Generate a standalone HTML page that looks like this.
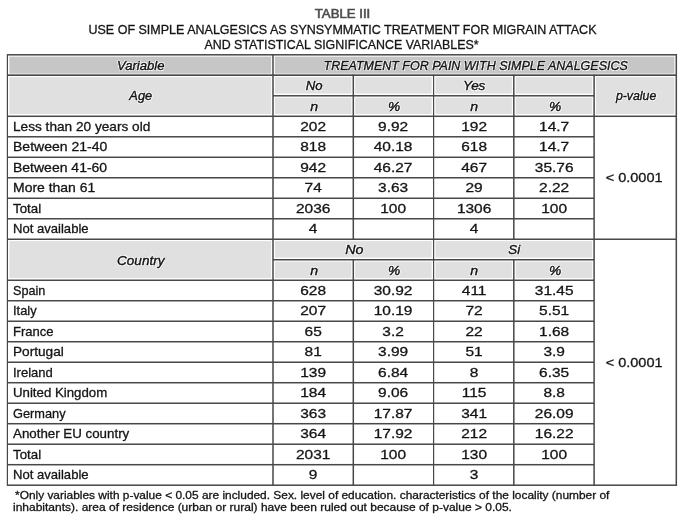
<!DOCTYPE html>
<html><head><meta charset="utf-8"><title>Table III</title>
<style>
html,body{margin:0;padding:0;background:#fff}
body{width:683px;height:520px;position:relative;overflow:hidden;font-family:"Liberation Sans",sans-serif;color:#151515}
#txt{position:absolute;left:0;top:0;width:683px;height:520px;will-change:transform;opacity:0.999}
.t{position:absolute;height:20px;line-height:20px;font-size:13px;white-space:nowrap;-webkit-text-stroke:0.3px #151515}
.i{font-style:italic;-webkit-text-stroke:0.42px #151515;text-shadow:.8px 0 .5px #fff,-.8px 0 .5px #fff,0 .8px .5px #fff,0 -.8px .5px #fff,.6px .6px .5px #fff,-.6px -.6px .5px #fff,.6px -.6px .5px #fff,-.6px .6px .5px #fff}
.b{color:#4c4c4c;-webkit-text-stroke:0.6px #4c4c4c}
.ttl{font-size:13px;height:16px;line-height:16px}
.fn{font-size:11px;height:14px;line-height:14px}
</style></head><body>
<svg width="683" height="520" viewBox="0 0 683 520" style="position:absolute;left:0;top:0">
<rect x="9.35" y="56.65" width="261.75" height="17.00" fill="#c6c6c6"/>
<rect x="274.90" y="56.65" width="399.50" height="17.00" fill="#c6c6c6"/>
<rect x="9.35" y="77.14" width="261.75" height="36.94" fill="#e0e0e0"/>
<rect x="274.90" y="77.14" width="76.50" height="16.44" fill="#e0e0e0"/>
<rect x="274.90" y="97.64" width="76.50" height="16.45" fill="#e0e0e0"/>
<rect x="274.90" y="261.60" width="76.50" height="16.45" fill="#e0e0e0"/>
<rect x="355.20" y="77.14" width="76.45" height="16.44" fill="#e0e0e0"/>
<rect x="355.20" y="97.64" width="76.45" height="16.45" fill="#e0e0e0"/>
<rect x="355.20" y="261.60" width="76.45" height="16.45" fill="#e0e0e0"/>
<rect x="435.45" y="77.14" width="76.45" height="16.44" fill="#e0e0e0"/>
<rect x="435.45" y="97.64" width="76.45" height="16.45" fill="#e0e0e0"/>
<rect x="435.45" y="261.60" width="76.45" height="16.45" fill="#e0e0e0"/>
<rect x="515.70" y="77.14" width="76.50" height="16.44" fill="#e0e0e0"/>
<rect x="515.70" y="97.64" width="76.50" height="16.45" fill="#e0e0e0"/>
<rect x="515.70" y="261.60" width="76.50" height="16.45" fill="#e0e0e0"/>
<rect x="596.00" y="77.14" width="78.40" height="36.94" fill="#e0e0e0"/>
<rect x="9.35" y="241.10" width="261.75" height="36.94" fill="#e0e0e0"/>
<rect x="274.90" y="241.10" width="156.75" height="16.45" fill="#e0e0e0"/>
<rect x="435.45" y="241.10" width="156.75" height="16.45" fill="#e0e0e0"/>
<rect x="7.45" y="54.05" width="668.85" height="1.50" fill="#484848"/>
<rect x="7.45" y="484.45" width="668.85" height="1.50" fill="#484848"/>
<rect x="7.45" y="74.34" width="668.85" height="1.66" fill="#484848"/>
<rect x="273.00" y="95.04" width="321.10" height="1.50" fill="#484848"/>
<rect x="7.45" y="115.53" width="668.85" height="1.50" fill="#484848"/>
<rect x="7.45" y="136.03" width="586.65" height="1.50" fill="#484848"/>
<rect x="7.45" y="156.53" width="586.65" height="1.50" fill="#484848"/>
<rect x="7.45" y="177.02" width="586.65" height="1.50" fill="#484848"/>
<rect x="7.45" y="197.51" width="586.65" height="1.50" fill="#484848"/>
<rect x="7.45" y="218.01" width="586.65" height="1.50" fill="#484848"/>
<rect x="7.45" y="238.50" width="668.85" height="1.50" fill="#484848"/>
<rect x="273.00" y="259.00" width="321.10" height="1.50" fill="#484848"/>
<rect x="7.45" y="279.50" width="586.65" height="1.50" fill="#484848"/>
<rect x="7.45" y="299.99" width="586.65" height="1.50" fill="#484848"/>
<rect x="7.45" y="320.49" width="586.65" height="1.50" fill="#484848"/>
<rect x="7.45" y="340.98" width="586.65" height="1.50" fill="#484848"/>
<rect x="7.45" y="361.48" width="586.65" height="1.50" fill="#484848"/>
<rect x="7.45" y="381.97" width="586.65" height="1.50" fill="#484848"/>
<rect x="7.45" y="402.47" width="586.65" height="1.50" fill="#484848"/>
<rect x="7.45" y="422.96" width="586.65" height="1.50" fill="#484848"/>
<rect x="7.45" y="443.46" width="586.65" height="1.50" fill="#484848"/>
<rect x="7.45" y="463.95" width="586.65" height="1.50" fill="#484848"/>
<rect x="6.78" y="54.05" width="1.22" height="431.90" fill="#484848"/>
<rect x="675.55" y="54.05" width="1.50" height="431.90" fill="#484848"/>
<rect x="272.25" y="54.05" width="1.50" height="431.90" fill="#484848"/>
<rect x="593.35" y="74.55" width="1.50" height="411.40" fill="#484848"/>
<rect x="433.00" y="74.55" width="1.20" height="411.40" fill="#484848"/>
<rect x="352.55" y="74.55" width="1.50" height="165.46" fill="#484848"/>
<rect x="513.05" y="74.55" width="1.50" height="165.46" fill="#484848"/>
<rect x="352.55" y="259.00" width="1.50" height="226.95" fill="#484848"/>
<rect x="513.05" y="259.00" width="1.50" height="226.95" fill="#484848"/>
</svg>
<div id="txt">
<div class="t i" style="left:7.79px;top:55.50px;width:265.55px;text-align:center;transform:scaleX(1.0084);transform-origin:center center;">Variable</div>
<div class="t i" style="left:273.67px;top:55.50px;width:403.30px;text-align:center;transform:scaleX(0.9603);transform-origin:center center;">TREATMENT FOR PAIN WITH SIMPLE ANALGESICS</div>
<div class="t i" style="left:8.24px;top:85.50px;width:265.55px;text-align:center;transform:scaleX(0.9875);transform-origin:center center;">Age</div>
<div class="t i" style="left:273.62px;top:75.50px;width:80.30px;text-align:center;transform:scaleX(1.0145);transform-origin:center center;">No</div>
<div class="t i" style="left:434.40px;top:75.50px;width:80.25px;text-align:center;transform:scaleX(1.0364);transform-origin:center center;">Yes</div>
<div class="t i" style="left:595.26px;top:85.50px;width:82.20px;text-align:center;transform:scaleX(0.9456);transform-origin:center center;">p-value</div>
<div class="t i" style="left:273.81px;top:96.50px;width:80.30px;text-align:center;transform:scaleX(1.0872);transform-origin:center center;">n</div>
<div class="t i" style="left:354.23px;top:96.50px;width:80.25px;text-align:center;transform:scaleX(1.0566);transform-origin:center center;">%</div>
<div class="t i" style="left:434.37px;top:96.50px;width:80.25px;text-align:center;transform:scaleX(1.0832);transform-origin:center center;">n</div>
<div class="t i" style="left:514.62px;top:96.50px;width:80.30px;text-align:center;transform:scaleX(1.0603);transform-origin:center center;">%</div>
<div class="t i" style="left:273.81px;top:260.50px;width:80.30px;text-align:center;transform:scaleX(1.0872);transform-origin:center center;">n</div>
<div class="t i" style="left:354.23px;top:260.50px;width:80.25px;text-align:center;transform:scaleX(1.0566);transform-origin:center center;">%</div>
<div class="t i" style="left:434.37px;top:260.50px;width:80.25px;text-align:center;transform:scaleX(1.0832);transform-origin:center center;">n</div>
<div class="t i" style="left:514.62px;top:260.50px;width:80.30px;text-align:center;transform:scaleX(1.0603);transform-origin:center center;">%</div>
<div class="t i" style="left:8.15px;top:250.50px;width:265.55px;text-align:center;transform:scaleX(1.0401);transform-origin:center center;">Country</div>
<div class="t i" style="left:273.85px;top:239.50px;width:160.55px;text-align:center;transform:scaleX(1.0995);transform-origin:center center;">No</div>
<div class="t i" style="left:434.30px;top:239.50px;width:160.55px;text-align:center;transform:scaleX(1.0255);transform-origin:center center;">Si</div>
<div class="t " style="left:12.93px;top:116.50px;width:257.55px;text-align:left;transform:scaleX(1.0492);transform-origin:left center;">Less than 20 years old</div>
<div class="t " style="left:273.00px;top:116.50px;width:80.30px;text-align:center;transform:scaleX(1.1900);transform-origin:center center;">202</div>
<div class="t " style="left:353.30px;top:116.50px;width:80.25px;text-align:center;transform:scaleX(1.1900);transform-origin:center center;">9.92</div>
<div class="t " style="left:433.55px;top:116.50px;width:80.25px;text-align:center;transform:scaleX(1.1900);transform-origin:center center;">192</div>
<div class="t " style="left:513.80px;top:116.50px;width:80.30px;text-align:center;transform:scaleX(1.1900);transform-origin:center center;">14.7</div>
<div class="t " style="left:12.86px;top:136.50px;width:257.55px;text-align:left;transform:scaleX(1.0776);transform-origin:left center;">Between 21-40</div>
<div class="t " style="left:273.00px;top:136.50px;width:80.30px;text-align:center;transform:scaleX(1.1900);transform-origin:center center;">818</div>
<div class="t " style="left:353.30px;top:136.50px;width:80.25px;text-align:center;transform:scaleX(1.1900);transform-origin:center center;">40.18</div>
<div class="t " style="left:433.55px;top:136.50px;width:80.25px;text-align:center;transform:scaleX(1.1900);transform-origin:center center;">618</div>
<div class="t " style="left:513.80px;top:136.50px;width:80.30px;text-align:center;transform:scaleX(1.1900);transform-origin:center center;">14.7</div>
<div class="t " style="left:12.86px;top:157.50px;width:257.55px;text-align:left;transform:scaleX(1.0765);transform-origin:left center;">Between 41-60</div>
<div class="t " style="left:273.00px;top:157.50px;width:80.30px;text-align:center;transform:scaleX(1.1900);transform-origin:center center;">942</div>
<div class="t " style="left:353.30px;top:157.50px;width:80.25px;text-align:center;transform:scaleX(1.1900);transform-origin:center center;">46.27</div>
<div class="t " style="left:433.55px;top:157.50px;width:80.25px;text-align:center;transform:scaleX(1.1900);transform-origin:center center;">467</div>
<div class="t " style="left:513.80px;top:157.50px;width:80.30px;text-align:center;transform:scaleX(1.1900);transform-origin:center center;">35.76</div>
<div class="t " style="left:12.86px;top:177.50px;width:257.55px;text-align:left;transform:scaleX(1.0744);transform-origin:left center;">More than 61</div>
<div class="t " style="left:273.00px;top:177.50px;width:80.30px;text-align:center;transform:scaleX(1.1900);transform-origin:center center;">74</div>
<div class="t " style="left:353.30px;top:177.50px;width:80.25px;text-align:center;transform:scaleX(1.1900);transform-origin:center center;">3.63</div>
<div class="t " style="left:433.55px;top:177.50px;width:80.25px;text-align:center;transform:scaleX(1.1900);transform-origin:center center;">29</div>
<div class="t " style="left:513.80px;top:177.50px;width:80.30px;text-align:center;transform:scaleX(1.1900);transform-origin:center center;">2.22</div>
<div class="t " style="left:13.40px;top:198.50px;width:257.55px;text-align:left;transform:scaleX(1.0244);transform-origin:left center;">Total</div>
<div class="t " style="left:273.00px;top:198.50px;width:80.30px;text-align:center;transform:scaleX(1.1900);transform-origin:center center;">2036</div>
<div class="t " style="left:353.30px;top:198.50px;width:80.25px;text-align:center;transform:scaleX(1.1900);transform-origin:center center;">100</div>
<div class="t " style="left:433.55px;top:198.50px;width:80.25px;text-align:center;transform:scaleX(1.1900);transform-origin:center center;">1306</div>
<div class="t " style="left:513.80px;top:198.50px;width:80.30px;text-align:center;transform:scaleX(1.1900);transform-origin:center center;">100</div>
<div class="t " style="left:12.92px;top:218.50px;width:257.55px;text-align:left;transform:scaleX(1.0058);transform-origin:left center;">Not available</div>
<div class="t " style="left:273.00px;top:218.50px;width:80.30px;text-align:center;transform:scaleX(1.1900);transform-origin:center center;">4</div>
<div class="t " style="left:433.55px;top:218.50px;width:80.25px;text-align:center;transform:scaleX(1.1900);transform-origin:center center;">4</div>
<div class="t " style="left:12.99px;top:280.50px;width:257.55px;text-align:left;transform:scaleX(0.9712);transform-origin:left center;">Spain</div>
<div class="t " style="left:273.00px;top:280.50px;width:80.30px;text-align:center;transform:scaleX(1.1900);transform-origin:center center;">628</div>
<div class="t " style="left:353.30px;top:280.50px;width:80.25px;text-align:center;transform:scaleX(1.1900);transform-origin:center center;">30.92</div>
<div class="t " style="left:433.55px;top:280.50px;width:80.25px;text-align:center;transform:scaleX(1.1900);transform-origin:center center;">411</div>
<div class="t " style="left:513.80px;top:280.50px;width:80.30px;text-align:center;transform:scaleX(1.1900);transform-origin:center center;">31.45</div>
<div class="t " style="left:12.79px;top:300.50px;width:257.55px;text-align:left;transform:scaleX(0.9917);transform-origin:left center;">Italy</div>
<div class="t " style="left:273.00px;top:300.50px;width:80.30px;text-align:center;transform:scaleX(1.1900);transform-origin:center center;">207</div>
<div class="t " style="left:353.30px;top:300.50px;width:80.25px;text-align:center;transform:scaleX(1.1900);transform-origin:center center;">10.19</div>
<div class="t " style="left:433.55px;top:300.50px;width:80.25px;text-align:center;transform:scaleX(1.1900);transform-origin:center center;">72</div>
<div class="t " style="left:513.80px;top:300.50px;width:80.30px;text-align:center;transform:scaleX(1.1900);transform-origin:center center;">5.51</div>
<div class="t " style="left:12.92px;top:321.50px;width:257.55px;text-align:left;transform:scaleX(1.0031);transform-origin:left center;">France</div>
<div class="t " style="left:273.00px;top:321.50px;width:80.30px;text-align:center;transform:scaleX(1.1900);transform-origin:center center;">65</div>
<div class="t " style="left:353.30px;top:321.50px;width:80.25px;text-align:center;transform:scaleX(1.1900);transform-origin:center center;">3.2</div>
<div class="t " style="left:433.55px;top:321.50px;width:80.25px;text-align:center;transform:scaleX(1.1900);transform-origin:center center;">22</div>
<div class="t " style="left:513.80px;top:321.50px;width:80.30px;text-align:center;transform:scaleX(1.1900);transform-origin:center center;">1.68</div>
<div class="t " style="left:12.88px;top:341.50px;width:257.55px;text-align:left;transform:scaleX(1.0497);transform-origin:left center;">Portugal</div>
<div class="t " style="left:273.00px;top:341.50px;width:80.30px;text-align:center;transform:scaleX(1.1900);transform-origin:center center;">81</div>
<div class="t " style="left:353.30px;top:341.50px;width:80.25px;text-align:center;transform:scaleX(1.1900);transform-origin:center center;">3.99</div>
<div class="t " style="left:433.55px;top:341.50px;width:80.25px;text-align:center;transform:scaleX(1.1900);transform-origin:center center;">51</div>
<div class="t " style="left:513.80px;top:341.50px;width:80.30px;text-align:center;transform:scaleX(1.1900);transform-origin:center center;">3.9</div>
<div class="t " style="left:12.78px;top:362.50px;width:257.55px;text-align:left;transform:scaleX(1.0016);transform-origin:left center;">Ireland</div>
<div class="t " style="left:273.00px;top:362.50px;width:80.30px;text-align:center;transform:scaleX(1.1900);transform-origin:center center;">139</div>
<div class="t " style="left:353.30px;top:362.50px;width:80.25px;text-align:center;transform:scaleX(1.1900);transform-origin:center center;">6.84</div>
<div class="t " style="left:433.55px;top:362.50px;width:80.25px;text-align:center;transform:scaleX(1.1900);transform-origin:center center;">8</div>
<div class="t " style="left:513.80px;top:362.50px;width:80.30px;text-align:center;transform:scaleX(1.1900);transform-origin:center center;">6.35</div>
<div class="t " style="left:12.95px;top:382.50px;width:257.55px;text-align:left;transform:scaleX(1.0180);transform-origin:left center;">United Kingdom</div>
<div class="t " style="left:273.00px;top:382.50px;width:80.30px;text-align:center;transform:scaleX(1.1900);transform-origin:center center;">184</div>
<div class="t " style="left:353.30px;top:382.50px;width:80.25px;text-align:center;transform:scaleX(1.1900);transform-origin:center center;">9.06</div>
<div class="t " style="left:433.55px;top:382.50px;width:80.25px;text-align:center;transform:scaleX(1.1900);transform-origin:center center;">115</div>
<div class="t " style="left:513.80px;top:382.50px;width:80.30px;text-align:center;transform:scaleX(1.1900);transform-origin:center center;">8.8</div>
<div class="t " style="left:13.06px;top:403.50px;width:257.55px;text-align:left;transform:scaleX(0.9830);transform-origin:left center;">Germany</div>
<div class="t " style="left:273.00px;top:403.50px;width:80.30px;text-align:center;transform:scaleX(1.1900);transform-origin:center center;">363</div>
<div class="t " style="left:353.30px;top:403.50px;width:80.25px;text-align:center;transform:scaleX(1.1900);transform-origin:center center;">17.87</div>
<div class="t " style="left:433.55px;top:403.50px;width:80.25px;text-align:center;transform:scaleX(1.1900);transform-origin:center center;">341</div>
<div class="t " style="left:513.80px;top:403.50px;width:80.30px;text-align:center;transform:scaleX(1.1900);transform-origin:center center;">26.09</div>
<div class="t " style="left:13.36px;top:423.50px;width:257.55px;text-align:left;transform:scaleX(1.0246);transform-origin:left center;">Another EU country</div>
<div class="t " style="left:273.00px;top:423.50px;width:80.30px;text-align:center;transform:scaleX(1.1900);transform-origin:center center;">364</div>
<div class="t " style="left:353.30px;top:423.50px;width:80.25px;text-align:center;transform:scaleX(1.1900);transform-origin:center center;">17.92</div>
<div class="t " style="left:433.55px;top:423.50px;width:80.25px;text-align:center;transform:scaleX(1.1900);transform-origin:center center;">212</div>
<div class="t " style="left:513.80px;top:423.50px;width:80.30px;text-align:center;transform:scaleX(1.1900);transform-origin:center center;">16.22</div>
<div class="t " style="left:13.40px;top:444.50px;width:257.55px;text-align:left;transform:scaleX(1.0244);transform-origin:left center;">Total</div>
<div class="t " style="left:273.00px;top:444.50px;width:80.30px;text-align:center;transform:scaleX(1.1900);transform-origin:center center;">2031</div>
<div class="t " style="left:353.30px;top:444.50px;width:80.25px;text-align:center;transform:scaleX(1.1900);transform-origin:center center;">100</div>
<div class="t " style="left:433.55px;top:444.50px;width:80.25px;text-align:center;transform:scaleX(1.1900);transform-origin:center center;">130</div>
<div class="t " style="left:513.80px;top:444.50px;width:80.30px;text-align:center;transform:scaleX(1.1900);transform-origin:center center;">100</div>
<div class="t " style="left:12.92px;top:464.50px;width:257.55px;text-align:left;transform:scaleX(1.0058);transform-origin:left center;">Not available</div>
<div class="t " style="left:273.00px;top:464.50px;width:80.30px;text-align:center;transform:scaleX(1.1900);transform-origin:center center;">9</div>
<div class="t " style="left:433.55px;top:464.50px;width:80.25px;text-align:center;transform:scaleX(1.1900);transform-origin:center center;">3</div>
<div class="t " style="left:593.11px;top:167.50px;width:82.20px;text-align:center;transform:scaleX(1.1161);transform-origin:center center;">&lt; 0.0001</div>
<div class="t " style="left:593.11px;top:352.50px;width:82.20px;text-align:center;transform:scaleX(1.1161);transform-origin:center center;">&lt; 0.0001</div>
<div class="t ttl b" style="left:0.5px;top:5.85px;width:683px;text-align:center;transform:scaleX(1.015);transform-origin:center center">TABLE III</div>
<div class="t ttl" style="left:0.5px;top:22.1px;width:683px;text-align:center;transform:scaleX(0.962);transform-origin:center center">USE OF SIMPLE ANALGESICS AS SYNSYMMATIC TREATMENT FOR MIGRAIN ATTACK</div>
<div class="t ttl" style="left:-0.3px;top:36.8px;width:683px;text-align:center;transform:scaleX(0.955);transform-origin:center center">AND STATISTICAL SIGNIFICANCE VARIABLES*</div>
<div class="t fn" style="left:14.7px;top:488.0px;width:660px;text-align:left;transform:scaleX(1.082);transform-origin:left center">*Only variables with p-value &lt; 0.05 are included. Sex. level of education. characteristics of the locality (number of</div>
<div class="t fn" style="left:13.0px;top:500.4px;width:660px;text-align:left;transform:scaleX(1.09);transform-origin:left center">inhabitants). area of residence (urban or rural) have been ruled out because of p-value &gt; 0.05.</div>
</div>
</body></html>
